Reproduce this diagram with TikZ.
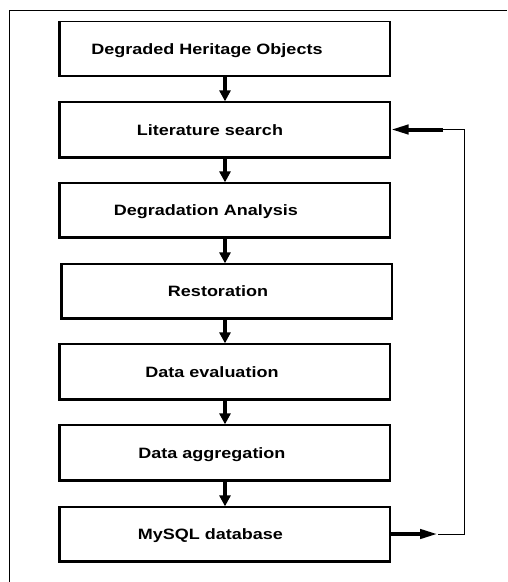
\documentclass[tikz,border=0pt]{standalone}
\usepackage{fontspec}
\setmainfont{Liberation Sans}
\usetikzlibrary{arrows.meta}
\newcommand\stretchtxt[1]{\scalebox{1.2}[1]{#1}}
\begin{document}
\begin{tikzpicture}[x=1pt,y=-1pt,
  stagebox/.style={draw,line width=1.3pt,inner sep=0pt,minimum width=330pt,minimum height=54pt},
  stagetext/.style={font=\fontsize{15}{18}\selectfont\bfseries,inner sep=0pt,anchor=base},
  shadowedge/.style={line width=2.2pt},
  flow/.style={line width=4pt,-{Triangle[length=11pt,width=11pt]}},
  backflow/.style={line width=4pt,-{Triangle[length=18pt,width=9pt]}},
  backline/.style={line width=1pt}]
\useasboundingbox (0,0) rectangle (507,582);
% frame
\draw[line width=1pt] (9.5,582) -- (9.5,10.5) -- (507,10.5);
% boxes
\node[stagebox] (b1) at (225,48.5) {};
\node[stagebox, minimum height=55pt] (b2) at (225,129.5) {};
\node[stagebox] (b3) at (225,210) {};
\node[stagebox] (b4) at (227,291) {};
\node[stagebox, minimum height=55pt] (b5) at (225,371.5) {};
\node[stagebox, minimum height=55pt] (b6) at (225,452.5) {};
\node[stagebox] (b7) at (225,534) {};
\foreach \b in {b1,b2,b3,b4,b5,b6,b7}
  \draw[shadowedge] (\b.north west) -- (\b.south west) -- (\b.south east);
% texts
\node[stagetext] (t1) at (207,54) {\stretchtxt{Degraded Heritage Objects}};
\node[stagetext] (t2) at (210,135) {\stretchtxt{Literature search}};
\node[stagetext] (t3) at (206,215.5) {\stretchtxt{Degradation Analysis}};
\node[stagetext] (t4) at (218,296.5) {\stretchtxt{Restoration}};
\node[stagetext] (t5) at (212,377) {\stretchtxt{Data evaluation}};
\node[stagetext] (t6) at (212,458) {\stretchtxt{Data aggregation}};
\node[stagetext] (t7) at (210.5,539.5) {\stretchtxt{MySQL database}};
% arrows
\draw[flow] (b1.south) -- (b1.south |- b2.north);
\draw[flow] (b2.south) -- (b2.south |- b3.north);
\draw[flow] (b3.south) -- (b3.south |- b4.north);
\draw[flow] (b3.south |- b4.south) -- (b3.south |- b5.north);
\draw[flow] (b5.south) -- (b5.south |- b6.north);
\draw[flow] (b6.south) -- (b6.south |- b7.north);
% feedback
\coordinate (fa) at (438,534);
\coordinate (fb) at (464,534);
\coordinate (fc) at (464,129.5);
\coordinate (fd) at (443,129.5);
\draw[backflow] (b7.east) -- (fa);
\draw[backline] (fa) -- (fb) -- (fc) -- (fd);
\draw[backflow] (fd) -- (b2.east);
\end{tikzpicture}
\end{document}
